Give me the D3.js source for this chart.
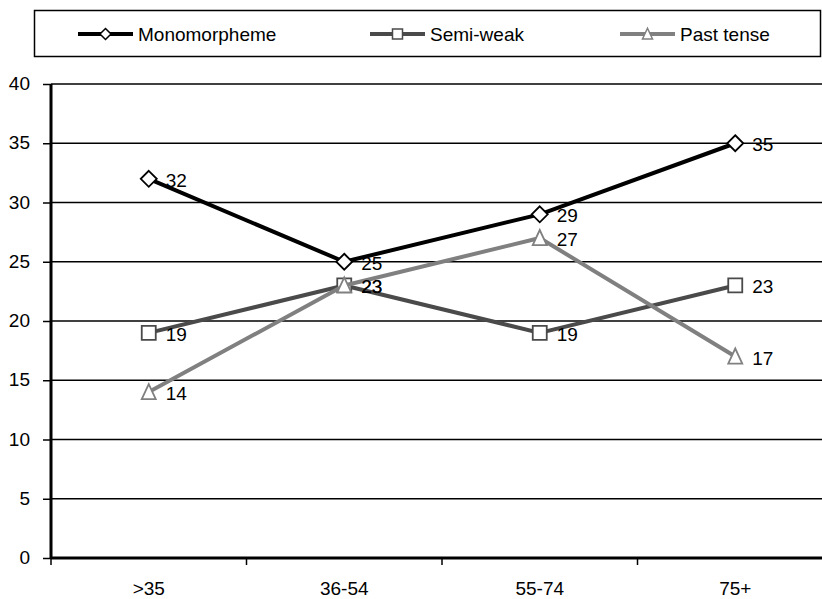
<!DOCTYPE html>
<html>
<head>
<meta charset="utf-8">
<script src="https://cdn.jsdelivr.net/npm/d3@7"></script>
<style>
  html, body { margin: 0; padding: 0; background: #fff; }
  svg { display: block; font-family: "Liberation Sans", Arial, sans-serif; }
</style>
</head>
<body>
<svg id="chart" width="822" height="599"></svg>
<script>
// Age groups along the x axis
const categories = [">35", "36-54", "55-74", "75+"];
// Counts per series
const monomorpheme = [32, 25, 29, 35];
const semiWeak = [19, 23, 19, 23];
const pastTense = [14, 23, 27, 17];
const yTicks = [0, 5, 10, 15, 20, 25, 30, 35, 40];

const series = [
  { name: "Monomorpheme", values: monomorpheme, color: "#000000", shape: "diamond" },
  { name: "Semi-weak", values: semiWeak, color: "#4a4a4a", shape: "square" },
  { name: "Past tense", values: pastTense, color: "#808080", shape: "triangle" }
];

const FONT = 19;
const svg = d3.select("#chart");
const plotLeft = 51, plotRight = 833, plotTop = 84, plotBottom = 558;

const x = d3.scaleBand().domain(categories).range([plotLeft, plotRight]).paddingInner(0).paddingOuter(0);
const y = d3.scaleLinear().domain([0, 40]).range([plotBottom, plotTop]);
const cx = c => x(c) + x.bandwidth() / 2;

// Horizontal gridlines
svg.append("g").selectAll("line").data(yTicks.filter(t => t > 0)).join("line")
  .attr("x1", plotLeft).attr("x2", 822)
  .attr("y1", d => y(d)).attr("y2", d => y(d))
  .attr("stroke", "#000").attr("stroke-width", 1.5);

// Y axis
const yAxis = svg.append("g").attr("transform", `translate(${plotLeft},0)`)
  .call(d3.axisLeft(y).tickValues(yTicks).tickSize(8).tickPadding(13));
yAxis.select(".domain").attr("stroke-width", 3).attr("d", `M0,${plotTop}V${plotBottom}`);
yAxis.selectAll(".tick line").attr("stroke-width", 1.5);
yAxis.selectAll("text").attr("font-size", FONT).attr("fill", "#000").attr("dy", "0.3em")
  .attr("font-family", "Liberation Sans, Arial, sans-serif");

// X axis with ticks at category boundaries
const boundaries = categories.map(c => x(c));
svg.append("line").attr("x1", plotLeft).attr("x2", 822).attr("y1", plotBottom).attr("y2", plotBottom)
  .attr("stroke", "#000").attr("stroke-width", 3);
svg.append("g").selectAll("line").data(boundaries).join("line")
  .attr("x1", d => d).attr("x2", d => d).attr("y1", plotBottom).attr("y2", plotBottom + 7)
  .attr("stroke", "#000").attr("stroke-width", 1.5);
svg.append("g").selectAll("text").data(categories).join("text")
  .attr("x", d => cx(d)).attr("y", 595)
  .attr("text-anchor", "middle").attr("font-size", FONT).attr("fill", "#000")
  .text(d => d);

function markerPath(shape, s) {
  if (shape === "diamond") return `M0,${-s}L${s},0L0,${s}L${-s},0Z`;
  if (shape === "square") return `M${-s},${-s}H${s}V${s}H${-s}Z`;
  return `M0,${-s * 1.15}L${s},${s}H${-s}Z`;
}

const line = d3.line().x((d, i) => cx(categories[i])).y(d => y(d));

series.forEach(s => {
  const g = svg.append("g");
  g.append("path").attr("d", line(s.values)).attr("fill", "none")
    .attr("stroke", s.color).attr("stroke-width", 4).attr("stroke-linejoin", "round");
  g.selectAll("path.m").data(s.values).join("path").attr("class", "m")
    .attr("transform", (d, i) => `translate(${cx(categories[i])},${y(d)})`)
    .attr("d", markerPath(s.shape, s.shape === "diamond" ? 8 : 7))
    .attr("fill", "#fff").attr("stroke", s.color).attr("stroke-width", 1.8);
  g.selectAll("text").data(s.values).join("text")
    .attr("x", (d, i) => cx(categories[i]) + 17)
    .attr("y", d => y(d) + 8)
    .attr("font-size", FONT).attr("fill", "#000")
    .text(d => d);
});

// Legend
const legend = svg.append("g");
legend.append("rect").attr("x", 34.5).attr("y", 10.5).attr("width", 786).attr("height", 46)
  .attr("fill", "#fff").attr("stroke", "#000").attr("stroke-width", 1.5);
const legendX = [78, 370, 620];
series.forEach((s, i) => {
  const lx = legendX[i], ly = 34;
  legend.append("line").attr("x1", lx).attr("x2", lx + 55).attr("y1", ly).attr("y2", ly)
    .attr("stroke", s.color).attr("stroke-width", 4);
  legend.append("path").attr("transform", `translate(${lx + 27.5},${ly})`)
    .attr("d", markerPath(s.shape, s.shape === "diamond" ? 5.5 : 5))
    .attr("fill", "#fff").attr("stroke", s.color).attr("stroke-width", 1.5);
  legend.append("text").attr("x", lx + 60).attr("y", ly + 7)
    .attr("font-size", FONT).attr("fill", "#000").text(s.name);
});
</script>
</body>
</html>
